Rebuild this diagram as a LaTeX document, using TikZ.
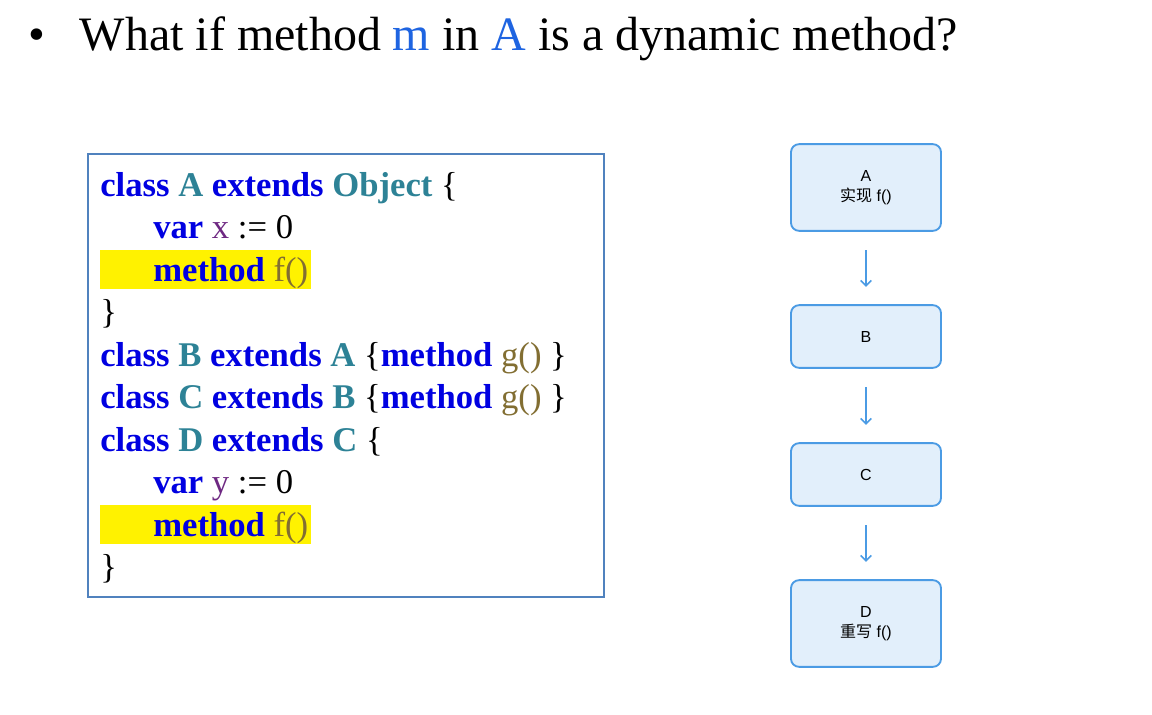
\documentclass[tikz,border=0pt]{standalone}
\usetikzlibrary{arrows.meta}
\usepackage{fontspec}
\setmainfont{Liberation Serif}
\setsansfont{Liberation Sans}
\newfontfamily\cjk{Noto Sans CJK SC}
\definecolor{kw}{RGB}{0,0,225}
\definecolor{cn}{RGB}{45,130,150}
\definecolor{vr}{RGB}{110,40,130}
\definecolor{fn}{RGB}{130,110,50}
\definecolor{tb}{RGB}{30,100,225}
\definecolor{bx}{RGB}{80,130,190}
\definecolor{nf}{RGB}{226,239,251}
\definecolor{nd}{RGB}{75,155,228}
\newcommand{\K}[1]{\textbf{\textcolor{kw}{#1}}}
\newcommand{\N}[1]{\textbf{\textcolor{cn}{#1}}}
\newcommand{\V}[1]{\textcolor{vr}{#1}}
\newcommand{\F}[1]{\textcolor{fn}{#1}}
\begin{document}
\begin{tikzpicture}[x=0.75pt,y=-0.75pt,
  code/.style={anchor=base west,inner sep=0pt,font=\fontsize{26}{26}\selectfont},
  cls/.style={draw=nd,fill=nf,line width=1.4pt,rounded corners=6pt,minimum width=112.5pt,font=\sffamily\fontsize{12}{15}\selectfont,align=center},
  arr/.style={draw=nd,line width=1.2pt,-{Straight Barb[length=4pt,width=8pt]}}]
\useasboundingbox (0,0) rectangle (1152,714);
\node[anchor=base west,inner sep=0pt,font=\fontsize{36}{36}\selectfont] (title) at (28,50) {\textbullet\hspace{26pt}What if method \textcolor{tb}{m} in \textcolor{tb}{A} is a dynamic method?};
\draw[bx,line width=1.2pt] (88,154) rectangle (604,597);
\fill[yellow] (100,250) rectangle (311,289);
\fill[yellow] (100,505) rectangle (311,544);
\node[code] (l1) at (100,196) {\K{class} \N{A} \K{extends} \N{Object} \{};
\node[code] (l2) at (153,238) {\K{var} \V{x} := 0};
\node[code] (l3) at (153,281) {\K{method} \F{f()}};
\node[code] (l4) at (100,323) {\}};
\node[code] (l5) at (100,366) {\K{class} \N{B} \K{extends} \N{A} \{\K{method} \F{g()} \}};
\node[code] (l6) at (100,408) {\K{class} \N{C} \K{extends} \N{B} \{\K{method} \F{g()} \}};
\node[code] (l7) at (100,451) {\K{class} \N{D} \K{extends} \N{C} \{};
\node[code] (l8) at (153,493) {\K{var} \V{y} := 0};
\node[code] (l9) at (153,536) {\K{method} \F{f()}};
\node[code] (l10) at (100,578) {\}};
\node[cls,minimum height=65pt] (A) at (866,187.5) {A\\{\cjk 实现} f()};
\node[cls,minimum height=47pt] (B) at (866,336.5) {B};
\node[cls,minimum height=47pt] (C) at (866,474.5) {C};
\node[cls,minimum height=65pt] (D) at (866,623.5) {D\\{\cjk 重写} f()};
\draw[arr,shorten <=14pt,shorten >=13pt] (A) -- (B);
\draw[arr,shorten <=14pt,shorten >=13pt] (B) -- (C);
\draw[arr,shorten <=14pt,shorten >=13pt] (C) -- (D);
\end{tikzpicture}
\end{document}
